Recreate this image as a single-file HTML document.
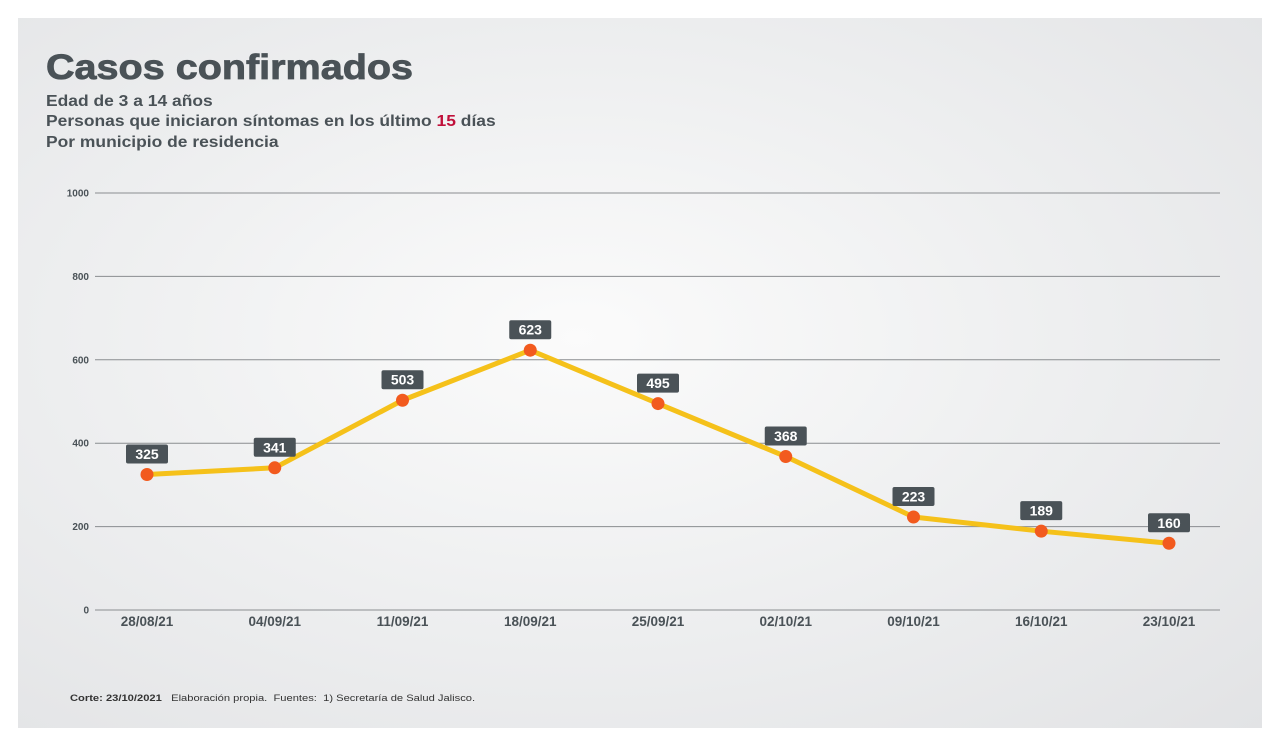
<!DOCTYPE html>
<html><head><meta charset="utf-8"><style>
body{margin:0;width:1280px;height:746px;background:#fff;font-family:"Liberation Sans",sans-serif;overflow:hidden}
#panel{position:absolute;left:18px;top:18px;width:1244px;height:710px;background:radial-gradient(ellipse at 45% 45%,#fbfbfb 0%,#eeeff0 50%,#e2e3e5 100%)}
.t{position:absolute;color:#4a5257;font-weight:bold;white-space:nowrap;transform-origin:0 0}
</style></head><body>
<div id="panel"></div>
<div class="t" style="left:46px;top:48px;font-size:35px;transform:scaleX(1.13);-webkit-text-stroke:0.8px #4a5257">Casos confirmados</div>
<div class="t" style="left:46px;top:93px;font-size:16px;transform:scaleX(1.09)">Edad de 3 a 14 años</div>
<div class="t" style="left:46px;top:113px;font-size:16px;transform:scaleX(1.09)">Personas que iniciaron síntomas en los último <span style="color:#c0103a">15</span> días</div>
<div class="t" style="left:46px;top:134px;font-size:16px;transform:scaleX(1.09)">Por municipio de residencia</div>
<svg width="1280" height="746" style="position:absolute;left:0;top:0"></svg>
<div class="t" style="left:70px;top:693px;font-size:9px;font-weight:normal;color:#333;transform:scaleX(1.24)"><b>Corte: 23/10/2021</b>&nbsp;&nbsp; Elaboración propia.&nbsp; Fuentes:&nbsp; 1) Secretaría de Salud Jalisco.</div>
<script>
const categories=["28/08/21","04/09/21","11/09/21","18/09/21","25/09/21","02/10/21","09/10/21","16/10/21","23/10/21"];
const values=[325,341,503,623,495,368,223,189,160];
const yTicks=[0,200,400,600,800,1000];
const svg=document.querySelector('svg');
const NS='http://www.w3.org/2000/svg';
const x=i=>147+i*127.75;
const y=v=>610-v*0.417;
function mk(t,a){const e=document.createElementNS(NS,t);for(const k in a)e.setAttribute(k,a[k]);svg.appendChild(e);return e;}
yTicks.forEach(v=>{
 const l=mk('line',{x1:95,x2:1220,y1:y(v),y2:y(v),stroke:'#8a8d90','stroke-width':1});
 
 
 const t=mk('text',{x:89,y:y(v)+3.5,'text-anchor':'end','font-size':10,'font-weight':'bold',fill:'#4a5257'});
 t.textContent=v;
 
 
});
categories.forEach((c,i)=>{
 const t=mk('text',{x:x(i),y:626,'text-anchor':'middle','font-size':13.5,'font-weight':'bold',fill:'#4a5257'});
 t.textContent=c;
 
 
});
const p=mk('polyline',{points:values.map((v,i)=>x(i)+','+y(v)).join(' '),fill:'none',stroke:'#f5c11a','stroke-width':5,'stroke-linejoin':'round'});


values.forEach((v,i)=>{
 const d=mk('circle',{cx:x(i),cy:y(v),r:6.5,fill:'#f25a1e'});
 
 
 const b=mk('rect',{x:x(i)-21,y:y(v)-30,width:42,height:19,rx:2,fill:'#4a5257'});
 
 
 const t=mk('text',{x:x(i),y:y(v)-15.5,'text-anchor':'middle','font-size':14,'font-weight':'bold',fill:'#fff'});
 t.textContent=v;
 
 
});
</script>
</body></html>
